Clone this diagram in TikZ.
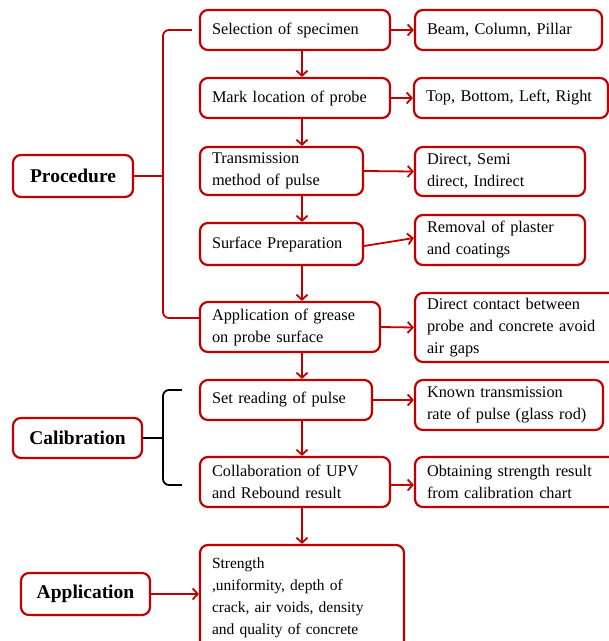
\documentclass[tikz,border=0pt]{standalone}
\usepackage{fontspec}
\setmainfont{Liberation Serif}
\usetikzlibrary{arrows.meta}
\definecolor{boxred}{RGB}{192,0,0}
\tikzset{
	box/.style={draw=boxred, line width=2.2pt, rounded corners=8pt, align=left, inner xsep=12pt, inner ysep=2pt, font=\fontsize{16.3}{22}\selectfont},
	headbox/.style={draw=boxred, line width=2.2pt, rounded corners=8pt, align=center, inner sep=0pt, font=\fontsize{19.5}{22}\selectfont\bfseries},
	arr/.style={draw=boxred, line width=1.8pt, -{Straight Barb[length=5pt,width=11pt]}},
	bracered/.style={draw=boxred, line width=1.8pt, rounded corners=6pt},
	braceblack/.style={draw=black, line width=1.8pt, rounded corners=6pt}
}

\begin{document}
\begin{tikzpicture}[x=1pt, y=-1pt]
		%%%%% START %%%%%
		\useasboundingbox (0, 0) rectangle (609, 641);
		
		\coordinate (spine) at (302, 0);
		\coordinate (pb) at (163, 0);
		
		% middle column
		\node[box, text width=166, minimum height=40] (sel) at (295, 30) {Selection of specimen};
		\node[box, text width=166, minimum height=40] (mark) at (295, 98) {Mark location of probe};
		\node[box, text width=139, minimum height=48] (trans) at (281.5, 171) {Transmission\\method of pulse};
		\node[box, text width=139, minimum height=42] (surf) at (281.5, 244) {Surface Preparation};
		\node[box, text width=156, minimum height=50] (grease) at (290, 327) {Application of grease\\on probe surface};
		\node[box, text width=148, minimum height=40] (set) at (286, 400) {Set reading of pulse};
		\node[box, text width=166, minimum height=50] (collab) at (295, 482) {Collaboration of UPV\\and Rebound result};
		\node[box, text width=180, minimum height=105, font=\fontsize{15.5}{22}\selectfont] (str) at (302, 597.5) {Strength\\,uniformity, depth of\\crack, air voids, density\\and quality of concrete};
		
		% right column
		\node[box, text width=163, minimum height=40] (beam) at (508.5, 30) {Beam, Column, Pillar};
		\node[box, text width=170, minimum height=40] (side) at (511, 98) {Top, Bottom, Left, Right};
		\node[box, text width=146, minimum height=49] (semi) at (500, 171.5) {Direct, Semi\\direct, Indirect};
		\node[box, text width=146, minimum height=50] (rem) at (500, 240) {Removal of plaster\\and coatings};
		\node[box, text width=186, minimum height=69] (contact) at (520, 327.5) {Direct contact between\\probe and concrete avoid\\air gaps};
		\node[box, text width=164, minimum height=50] (known) at (509, 405) {Known transmission\\rate of pulse (glass rod)};
		\node[box, text width=186, minimum height=50] (obtain) at (520, 482) {Obtaining strength result\\from calibration chart};
		
		% left labels
		\node[headbox, minimum width=120, minimum height=42] (proc) at (73, 176) {Procedure};
		\node[headbox, minimum width=129, minimum height=40] (calib) at (77.5, 438) {Calibration};
		\node[headbox, minimum width=129, minimum height=42] (app) at (85.5, 594) {Application};
		
		% down the middle
		\draw[arr] (sel.south -| spine) -- (mark.north -| spine);
		\draw[arr] (mark.south -| spine) -- (trans.north -| spine);
		\draw[arr] (trans.south -| spine) -- (surf.north -| spine);
		\draw[arr] (surf.south -| spine) -- (grease.north -| spine);
		\draw[arr] (grease.south -| spine) -- (set.north -| spine);
		\draw[arr] (set.south -| spine) -- (collab.north -| spine);
		\draw[arr] (collab.south -| spine) -- (str.north -| spine);
		
		% across
		\draw[arr] (sel.east) -- (beam.west);
		\draw[arr] (mark.east) -- (side.west);
		\draw[arr] (trans.east) -- (semi.west);
		\draw[arr] ([yshift=-2pt]surf.east) -- ([yshift=2pt]rem.west);
		\draw[arr] (grease.east) -- (contact.west);
		\draw[arr] (set.east) -- (set.east -| known.west);
		\draw[arr] ([yshift=-3pt]collab.east) -- ([yshift=-3pt]obtain.west);
		\draw[arr] (app.east) -- (app.east -| str.west);
		
		% braces
		\draw[bracered] ([xshift=-7pt]sel.west) -- (sel.west -| pb) -- ([yshift=9pt]grease.west -| pb) -- ([yshift=9pt]grease.west);
		\draw[draw=boxred, line width=1.8pt] (proc.east) -- (proc.east -| pb);
		\draw[braceblack] ([xshift=-17pt, yshift=10pt]set.west) -- ([yshift=10pt]set.west -| pb) -- ([yshift=-3pt]collab.west -| pb) -- ([xshift=-17pt, yshift=-3pt]collab.west);
		\draw[draw=black, line width=1.8pt] (calib.east) -- (calib.east -| pb);
		
		%%%%% END %%%%%
	\end{tikzpicture}
\end{document}
